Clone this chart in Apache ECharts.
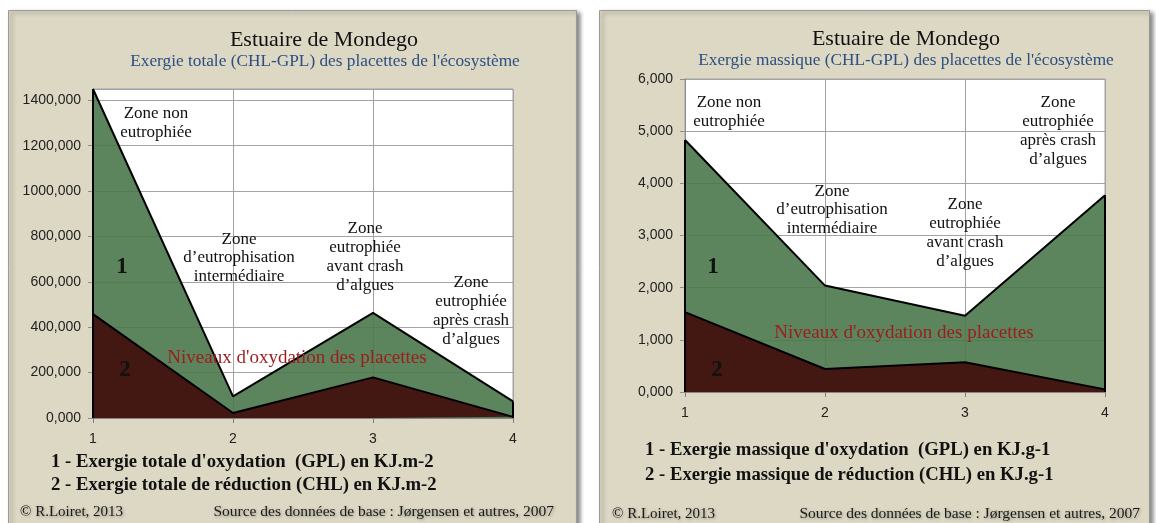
<!DOCTYPE html>
<html>
<head>
<meta charset="utf-8">
<script src="https://cdn.jsdelivr.net/npm/echarts@6/dist/echarts.min.js"></script>
<style>
  html, body { margin: 0; padding: 0; background: #ffffff; }
  #chart { width: 1156px; height: 523px; }
</style>
</head>
<body>
<div id="chart"></div>
<script>
// Placettes (stations along the estuary)
const stations = [1, 2, 3, 4];
const stationLabels = ['1', '2', '3', '4'];

// Exergie totale (KJ.m-2)
const totaleGPL = [1450, 95, 463, 73];
const totaleCHL = [458, 22, 179, 5];

// Exergie massique (KJ.g-1)
const massiqueGPL = [4.83, 2.04, 1.46, 3.77];
const massiqueCHL = [1.53, 0.44, 0.57, 0.05];

// Value-axis ranges
const totaleAxis = { min: 0, max: 1450, step: 200 };
const massiqueAxis = { min: 0, max: 6, step: 1 };

const zoneTexts = [
  'Zone non\neutrophiée',
  'Zone\nd\u2019eutrophisation\nintermédiaire',
  'Zone\neutrophiée\navant crash\nd\u2019algues',
  'Zone\neutrophiée\naprès crash\nd\u2019algues'
];

const titleText = 'Estuaire de Mondego';
const subTotale = "Exergie totale (CHL-GPL) des placettes de l'écosystème";
const subMassique = "Exergie massique (CHL-GPL) des placettes de l'écosystème";
const oxyText = "Niveaux d'oxydation des placettes";
const legendTotale = [
  "1 - Exergie totale d'oxydation  (GPL) en KJ.m-2",
  "2 - Exergie totale de réduction (CHL) en KJ.m-2"
];
const legendMassique = [
  "1 - Exergie massique d'oxydation  (GPL) en KJ.g-1",
  "2 - Exergie massique de réduction (CHL) en KJ.g-1"
];
const footerLeft = '\u00a9 R.Loiret, 2013';
const footerRight = 'Source des données de base : J\u00f8rgensen et autres, 2007';

const SERIF = "'Liberation Serif', 'DejaVu Serif', serif";
const SANS = "'Liberation Sans', Arial, sans-serif";
const GREEN = '#4a774b';
const DARK = '#41120f';
const GRIDC = '#a3a3a3';

const fmt = v => Number(v).toFixed(3).replace('.', ',');

function pairs(vals) { return stations.map((x, i) => [x, vals[i]]); }

// vertical outline at both ends of an area
function edges(vals) {
  const n = stations.length - 1;
  return {
    silent: true,
    symbol: ['none', 'none'],
    label: { show: false },
    emphasis: { disabled: true },
    lineStyle: { color: '#000', width: 2, type: 'solid' },
    data: [
      [{ coord: [stations[0], 0] }, { coord: [stations[0], vals[0]] }],
      [{ coord: [stations[n], 0] }, { coord: [stations[n], vals[n]] }]
    ]
  };
}

function areaSeries(idx, vals, color, opacity) {
  return {
    type: 'line',
    xAxisIndex: idx,
    yAxisIndex: idx,
    data: pairs(vals),
    symbol: 'none',
    lineStyle: { color: '#000', width: 2 },
    areaStyle: { color: color, opacity: opacity },
    markLine: edges(vals),
    silent: true
  };
}

function xAxisFor(idx) {
  return {
    type: 'value', gridIndex: idx,
    min: stations[0], max: stations[stations.length - 1], interval: 1,
    axisLine: { show: true, lineStyle: { color: '#7f7f7f', width: 1.5 } },
    axisTick: { show: true, length: 5, lineStyle: { color: '#7f7f7f' } },
    axisLabel: {
      margin: 14, color: '#222', fontFamily: SANS, fontSize: 14,
      formatter: v => stationLabels[stations.indexOf(v)] ?? ''
    },
    splitLine: { show: true, lineStyle: { color: GRIDC, width: 1 } }
  };
}

function yAxisFor(idx, ax) {
  return {
    type: 'value', gridIndex: idx,
    min: ax.min, max: ax.max, interval: ax.step,
    axisLine: { show: true, lineStyle: { color: '#8c8c8c' } },
    axisTick: { show: true, length: 5, lineStyle: { color: '#8c8c8c' } },
    axisLabel: {
      margin: 12, color: '#222', fontFamily: SANS, fontSize: 14,
      formatter: fmt,
      showMaxLabel: (ax.max % ax.step === 0)
    },
    splitLine: { show: true, lineStyle: { color: GRIDC, width: 1 } }
  };
}

function txt(x, y, text, font, fill, align, style) {
  return {
    type: 'text', x: x, y: y, z: 100, silent: true,
    style: Object.assign({
      text: text, font: font, fill: fill,
      textAlign: align || 'center', textVerticalAlign: 'middle'
    }, style || {})
  };
}

const shadowStyle = { textShadowColor: 'rgba(0,0,0,0.35)', textShadowBlur: 3, textShadowOffsetX: 1, textShadowOffsetY: 1 };
const panelStyle = { fill: '#dcd8c3', stroke: '#9a9a9a', lineWidth: 1, shadowBlur: 4, shadowOffsetX: 3, shadowOffsetY: 2, shadowColor: 'rgba(0,0,0,0.45)' };
const ZONE = '17px ' + SERIF;

const graphics = [
  // panels
  { type: 'rect', z: -10, silent: true, shape: { x: 8.5, y: 10.5, width: 568, height: 530 }, style: panelStyle },
  { type: 'rect', z: -10, silent: true, shape: { x: 599.5, y: 10.5, width: 550, height: 530 }, style: panelStyle },

  // titles
  txt(324, 40, titleText, '22px ' + SERIF, '#111'),
  txt(325, 61, subTotale, '17.3px ' + SERIF, '#2d4f82'),
  txt(906, 39, titleText, '22px ' + SERIF, '#111'),
  txt(906, 60, subMassique, '17.3px ' + SERIF, '#2d4f82'),

  // zones, left chart
  txt(156, 123, zoneTexts[0], ZONE, '#111', 'center', { lineHeight: 19.5 }),
  txt(239, 258, zoneTexts[1], ZONE, '#111', 'center', { lineHeight: 18.7 }),
  txt(365, 257, zoneTexts[2], ZONE, '#111', 'center', { lineHeight: 18.8 }),
  txt(471, 311, zoneTexts[3], ZONE, '#111', 'center', { lineHeight: 18.8 }),
  // zones, right chart
  txt(729, 112, zoneTexts[0], ZONE, '#111', 'center', { lineHeight: 19 }),
  txt(832, 210, zoneTexts[1], ZONE, '#111', 'center', { lineHeight: 18.7 }),
  txt(965, 233, zoneTexts[2], ZONE, '#111', 'center', { lineHeight: 18.8 }),
  txt(1058, 131, zoneTexts[3], ZONE, '#111', 'center', { lineHeight: 18.8 }),

  // area numbers
  txt(122, 267, '1', 'bold 23px ' + SERIF, '#111'),
  txt(125, 370, '2', 'bold 23px ' + SERIF, '#111'),
  txt(713, 267, '1', 'bold 23px ' + SERIF, '#111'),
  txt(717, 370, '2', 'bold 23px ' + SERIF, '#111'),

  // oxidation caption
  txt(297, 358, oxyText, '19px ' + SERIF, '#9e1c1c'),
  txt(904, 333, oxyText, '19px ' + SERIF, '#9e1c1c'),

  // legends
  txt(51, 462, legendTotale[0], 'bold 18.7px ' + SERIF, '#111', 'left'),
  txt(51, 485, legendTotale[1], 'bold 18.7px ' + SERIF, '#111', 'left'),
  txt(645, 450, legendMassique[0], 'bold 18.7px ' + SERIF, '#111', 'left'),
  txt(645, 475, legendMassique[1], 'bold 18.7px ' + SERIF, '#111', 'left'),

  // footers
  txt(20, 512, footerLeft, '15px ' + SERIF, '#1a1a1a', 'left', shadowStyle),
  txt(554, 512, footerRight, '15.5px ' + SERIF, '#1a1a1a', 'right', shadowStyle),
  txt(612, 514, footerLeft, '15px ' + SERIF, '#1a1a1a', 'left', shadowStyle),
  txt(1140, 514, footerRight, '15.5px ' + SERIF, '#1a1a1a', 'right', shadowStyle)
];

const chart = echarts.init(document.getElementById('chart'), null, { renderer: 'canvas' });
chart.setOption({
  animation: false,
  backgroundColor: 'transparent',
  grid: [
    { left: 93, right: 643, top: 89, bottom: 105, show: true, backgroundColor: '#ffffff', borderColor: GRIDC, borderWidth: 1, z: 0 },
    { left: 685, right: 51, top: 79, bottom: 131, show: true, backgroundColor: '#ffffff', borderColor: GRIDC, borderWidth: 1, z: 0 }
  ],
  xAxis: [xAxisFor(0), xAxisFor(1)],
  yAxis: [yAxisFor(0, totaleAxis), yAxisFor(1, massiqueAxis)],
  series: [
    areaSeries(0, totaleGPL, GREEN, 0.9),
    areaSeries(0, totaleCHL, DARK, 0.95),
    areaSeries(1, massiqueGPL, GREEN, 0.9),
    areaSeries(1, massiqueCHL, DARK, 0.95)
  ],
  graphic: { elements: graphics }
});
</script>
</body>
</html>
